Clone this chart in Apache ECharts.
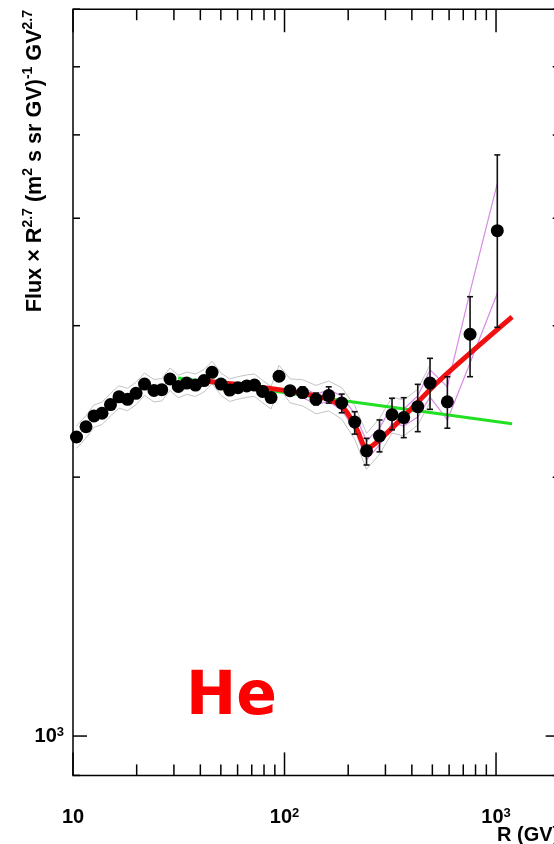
<!DOCTYPE html>
<html>
<head>
<meta charset="utf-8">
<script src="https://cdn.jsdelivr.net/npm/echarts@6/dist/echarts.min.js"></script>
<style>
  html, body { margin: 0; padding: 0; background: #ffffff; }
  #chart { width: 554px; height: 844px; }
</style>
</head>
<body>
<div id="chart"></div>
<script>
// Helium flux multiplied by R^2.7 versus rigidity.
const rigidity = [10.39, 11.52, 12.57, 13.71, 15.04, 16.50, 18.10, 19.86, 21.78, 24.15,
                  26.27, 28.75, 31.47, 34.48, 37.95, 41.63, 45.42, 50.09, 55.07, 60.27,
                  66.27, 72.14, 78.72, 86.35, 94.19, 106.2, 121.7, 140.9, 161.8, 186.4,
                  214.7, 244.2, 281.3, 322.3, 366.2, 426.5, 487.5, 588.7, 753.8, 1014];
const flux = [2227, 2289, 2356, 2373, 2429, 2480, 2463, 2503, 2566, 2522,
              2528, 2601, 2550, 2573, 2559, 2590, 2648, 2566, 2525, 2541,
              2553, 2559, 2516, 2475, 2620, 2521, 2508, 2463, 2488, 2439,
              2318, 2146, 2233, 2364, 2346, 2415, 2573, 2447, 2932, 3869];
// statistical error bars (null where hidden by the marker)
const statLow = [null, null, null, null, null, null, null, null, null, null,
                 null, null, null, null, null, null, null, null, null, null,
                 null, null, null, null, null, null, 2476, 2427, 2438, 2376,
                 2244, 2066, 2140, 2270, 2223, 2259, 2398, 2280, 2617, 2987];
const statHigh = [null, null, null, null, null, null, null, null, null, null,
                  null, null, null, null, null, null, null, null, null, null,
                  null, null, null, null, null, null, 2547, 2505, 2547, 2498,
                  2383, 2219, 2331, 2470, 2474, 2564, 2749, 2617, 3242, 4739];
// systematic band half-width, percent
const sysPct = [3.0, 3.0, 3.0, 3.0, 3.0, 3.0, 3.0, 3.0, 3.0, 3.0,
                3.0, 3.0, 3.0, 3.0, 3.0, 3.0, 3.0, 3.0, 3.0, 3.0,
                3.0, 3.0, 3.0, 3.0, 3.0, 3.2, 3.5, 3.8, 4.0, 4.2,
                4.5, 4.8, 4.8, 4.8, 4.8, 4.8, 5.0, null, null, null];
// model uncertainty band at high rigidity
const bandRigidity = [121.7, 140.9, 161.8, 186.4, 214.7, 244.2, 281.3, 322.3, 366.2, 426.5, 487.5, 588.7, 753.8, 1014];
const bandHigh = [2543, 2496, 2528, 2485, 2369, 2203, 2282, 2419, 2400, 2485, 2665, 2547, 3286, 4391];
const bandLow  = [2475, 2431, 2448, 2394, 2270, 2094, 2180, 2312, 2294, 2349, 2478, 2331, 2715, 3272];
// broken power-law fit
const fitRigidity = [42.1, 76.6, 118.4, 164.1, 193.2, 220.2, 242.8, 259.3, 543.6, 1191];
const fitFlux = [2587, 2545, 2505, 2459, 2394, 2270, 2168, 2174, 2594, 3071];
// single power law
const plRigidity = [31.4, 1191];
const plFlux = [2608, 2307];

// axis ranges and ticks
const X_MIN = 10, X_MAX = 2000, Y_MIN = 900, Y_MAX = 7000;
const xMajorTicks = [10, 100, 1000];
const xMinorTicks = [20, 30, 40, 50, 60, 70, 80, 90, 200, 300, 400, 500, 600, 700, 800, 900, 2000];
const yMajorTicks = [1000];
const yMinorTicks = [900, 2000, 3000, 4000, 5000, 6000, 7000];
const xTickLabels = ['10', '10{sup|2}', '10{sup|3}'];
const yTickLabels = ['10{sup|3}'];

const FONT = 'Liberation Sans, Arial, Helvetica, sans-serif';

function xTickSeries(values, len) {
  return {
    type: 'custom', silent: true, z: 6, clip: false,
    data: values.map(v => [v, Y_MIN]),
    renderItem: (params, api) => {
      const b = api.coord([api.value(0), Y_MIN]);
      const t = api.coord([api.value(0), Y_MAX]);
      const st = { stroke: '#000', lineWidth: 1.5 };
      return { type: 'group', children: [
        { type: 'line', shape: { x1: b[0], y1: b[1], x2: b[0], y2: b[1] - len }, style: st },
        { type: 'line', shape: { x1: t[0], y1: t[1], x2: t[0], y2: t[1] + len }, style: st }
      ] };
    }
  };
}
function yTickSeries(values, len) {
  return {
    type: 'custom', silent: true, z: 6, clip: false,
    data: values.map(v => [X_MIN, v]),
    renderItem: (params, api) => {
      const l = api.coord([X_MIN, api.value(1)]);
      const r = api.coord([X_MAX, api.value(1)]);
      const st = { stroke: '#000', lineWidth: 1.5 };
      return { type: 'group', children: [
        { type: 'line', shape: { x1: l[0], y1: l[1], x2: l[0] + len, y2: l[1] }, style: st },
        { type: 'line', shape: { x1: r[0], y1: r[1], x2: r[0] - len, y2: r[1] }, style: st }
      ] };
    }
  };
}

const pts = rigidity.map((r, i) => [r, flux[i]]);
const sysHi = [], sysLo = [];
rigidity.forEach((r, i) => {
  if (sysPct[i] != null) {
    sysHi.push([r, flux[i] * (1 + sysPct[i] / 100)]);
    sysLo.push([r, flux[i] * (1 - sysPct[i] / 100)]);
  }
});
const errData = [];
rigidity.forEach((r, i) => {
  if (statLow[i] != null) errData.push([r, statLow[i], statHigh[i]]);
});

const lineBase = { type: 'line', showSymbol: false, symbol: 'none', silent: true, animation: false };

const chart = echarts.init(document.getElementById('chart'), null, { renderer: 'canvas' });
chart.setOption({
  animation: false,
  backgroundColor: '#ffffff',
  grid: {
    left: 73, top: 9.2, width: 486.7, height: 766.2,
    containLabel: false, outerBoundsMode: 'none',
    show: true, borderColor: '#000', borderWidth: 1.5, backgroundColor: 'transparent'
  },
  xAxis: {
    type: 'log', logBase: 10, min: X_MIN, max: X_MAX,
    axisLine: { show: false }, axisTick: { show: false }, splitLine: { show: false },
    axisLabel: {
      customValues: xMajorTicks,
      formatter: v => xTickLabels[xMajorTicks.indexOf(Math.round(v))] || '',
      margin: 32, color: '#000', fontSize: 20, fontWeight: 'bold', fontFamily: FONT,
      rich: { sup: { fontSize: 13, fontWeight: 'bold', fontFamily: FONT, verticalAlign: 'top', color: '#000' } }
    }
  },
  yAxis: {
    type: 'log', logBase: 10, min: Y_MIN, max: Y_MAX,
    axisLine: { show: false }, axisTick: { show: false }, splitLine: { show: false },
    axisLabel: {
      customValues: yMajorTicks,
      formatter: v => yTickLabels[yMajorTicks.indexOf(Math.round(v))] || '',
      margin: 9, color: '#000', fontSize: 20, fontWeight: 'bold', fontFamily: FONT,
      rich: { sup: { fontSize: 13, fontWeight: 'bold', fontFamily: FONT, verticalAlign: 'top', color: '#000' } }
    }
  },
  graphic: [
    {
      type: 'text', x: 35, y: 10, rotation: Math.PI / 2, silent: true,
      style: {
        text: '{b|Flux × R}{s|2.7}{b| (m}{s|2}{b| s sr GV)}{s|-1}{b| GV}{s|2.7}',
        align: 'right', verticalAlign: 'middle',
        rich: {
          b: { fontSize: 21.6, fontWeight: 'bold', fontFamily: FONT, fill: '#000', lineHeight: 28 },
          s: { fontSize: 14, fontWeight: 'bold', fontFamily: FONT, fill: '#000', verticalAlign: 'top', lineHeight: 28 }
        }
      }
    },
    {
      type: 'text', x: 497, y: 835, silent: true,
      style: { text: 'R (GV)', fill: '#000', fontSize: 20, fontWeight: 'bold', fontFamily: FONT, align: 'left', verticalAlign: 'middle' }
    },
    {
      type: 'text', x: 186, y: 698, silent: true,
      style: { text: 'He', fill: '#ff0000', fontSize: 60, fontWeight: 'bold', fontFamily: 'DejaVu Sans, Verdana, sans-serif', align: 'left', verticalAlign: 'middle' }
    }
  ],
  series: [
    Object.assign({}, lineBase, { data: sysHi, z: 2, lineStyle: { color: '#c4c4c4', width: 1 } }),
    Object.assign({}, lineBase, { data: sysLo, z: 2, lineStyle: { color: '#c4c4c4', width: 1 } }),
    Object.assign({}, lineBase, { data: bandRigidity.map((r, i) => [r, bandHigh[i]]), z: 2, lineStyle: { color: '#d88ae6', width: 1.2 } }),
    Object.assign({}, lineBase, { data: bandRigidity.map((r, i) => [r, bandLow[i]]), z: 2, lineStyle: { color: '#d88ae6', width: 1.2 } }),
    Object.assign({}, lineBase, { data: plRigidity.map((r, i) => [r, plFlux[i]]), z: 3, lineStyle: { color: '#22e022', width: 3 } }),
    Object.assign({}, lineBase, { data: fitRigidity.map((r, i) => [r, fitFlux[i]]), z: 3, smooth: 0.3, lineStyle: { color: '#f01010', width: 5 } }),
    {
      type: 'custom', silent: true, z: 4, data: errData,
      renderItem: (params, api) => {
        const lo = api.coord([api.value(0), api.value(1)]);
        const hi = api.coord([api.value(0), api.value(2)]);
        const c = 3, st = { stroke: '#111', lineWidth: 1.6 };
        return { type: 'group', children: [
          { type: 'line', shape: { x1: lo[0], y1: lo[1], x2: hi[0], y2: hi[1] }, style: st },
          { type: 'line', shape: { x1: lo[0] - c, y1: lo[1], x2: lo[0] + c, y2: lo[1] }, style: st },
          { type: 'line', shape: { x1: hi[0] - c, y1: hi[1], x2: hi[0] + c, y2: hi[1] }, style: st }
        ] };
      }
    },
    { type: 'scatter', data: pts, z: 5, symbol: 'circle', symbolSize: 13, itemStyle: { color: '#000', opacity: 1 }, silent: true },
    xTickSeries(xMajorTicks, 23),
    xTickSeries(xMinorTicks, 11),
    yTickSeries(yMajorTicks, 14),
    yTickSeries(yMinorTicks, 7)
  ]
});
</script>
</body>
</html>
